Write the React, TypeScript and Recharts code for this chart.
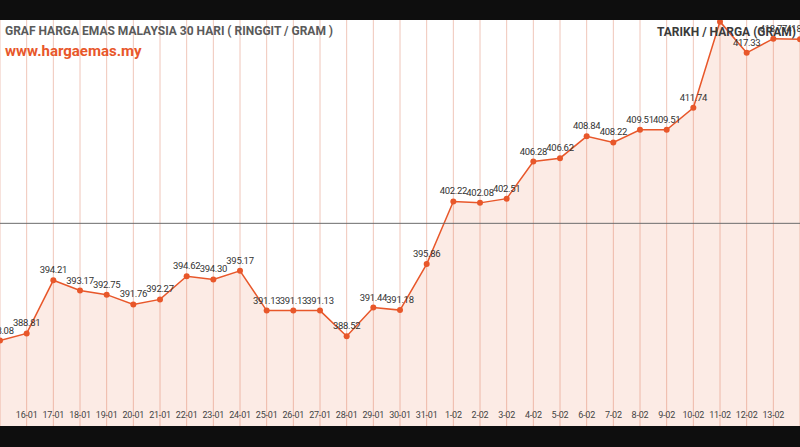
import React from "react";
import { AreaChart, Area, XAxis, YAxis, CartesianGrid, ReferenceLine, LabelList } from "recharts";

// tarikh (hari-bulan)
const dates = [
  "15-01", "16-01", "17-01", "18-01", "19-01", "20-01", "21-01", "22-01", "23-01", "24-01",
  "25-01", "26-01", "27-01", "28-01", "29-01", "30-01", "31-01", "1-02", "2-02", "3-02",
  "4-02", "5-02", "6-02", "7-02", "8-02", "9-02", "10-02", "11-02", "12-02", "13-02", "14-02",
];

// harga emas (RM / gram)
const prices = [
  388.08, 388.81, 394.21, 393.17, 392.75, 391.76, 392.27, 394.62, 394.3, 395.17,
  391.13, 391.13, 391.13, 388.52, 391.44, 391.18, 395.86, 402.22, 402.08, 402.51,
  406.28, 406.62, 408.84, 408.22, 409.51, 409.51, 411.74, 420.5, 417.33, 418.77, 418.7,
];

const yDomain = [379.4, 422.7];
const midLine = 400;

const data = dates.map((d, i) => ({ date: d, price: prices[i] }));

const ORANGE = "#e8572a";
const FONT = "Roboto, sans-serif";
const PLOT_BOTTOM = 426;

const DateTick = ({ x, payload, index }: any) => {
  if (index === 0 || index === dates.length - 1) return null;
  return (
    <text x={x} y={PLOT_BOTTOM - 8} textAnchor="middle" fontSize={9} letterSpacing={-0.2} fill="#444" fontFamily={FONT}>
      {payload.value}
    </text>
  );
};

const PriceDot = ({ cx, cy, index }: any) => {
  if (cx == null || cy == null) return null;
  return <circle key={`dot-${index}`} cx={cx} cy={cy} r={3} fill={ORANGE} />;
};

const App = () => {
  return (
    <div style={{ position: "fixed", left: 0, top: 0, width: 800, height: 447, background: "#fff", overflow: "hidden" }}>
      <AreaChart width={800} height={447} data={data} margin={{ top: 0, right: 0, left: 0, bottom: 0 }}>
        <CartesianGrid vertical={true} horizontal={false} stroke="#f0c6ba" />
        <XAxis
          dataKey="date"
          height={447 - PLOT_BOTTOM}
          interval={0}
          axisLine={false}
          tickLine={false}
          tick={<DateTick />}
        />
        <YAxis domain={yDomain} allowDataOverflow width={0} tick={false} tickLine={false} axisLine={{ stroke: "#999" }} />
        <ReferenceLine y={midLine} stroke="#6b6b6b" strokeWidth={1} />
        <Area
          type="linear"
          dataKey="price"
          stroke={ORANGE}
          strokeWidth={1.5}
          fill={ORANGE}
          fillOpacity={0.12}
          dot={<PriceDot />}
          activeDot={false}
          isAnimationActive={false}
        >
          <LabelList
            dataKey="price"
            position="top"
            offset={7}
            fontSize={9.5}
            letterSpacing={-0.3}
            fill="#333"
            fontFamily={FONT}
            formatter={(v: number) => v.toFixed(2)}
          />
        </Area>
      </AreaChart>
      <div style={{ position: "absolute", left: 0, top: 0, width: 800, height: 20, background: "#0e0e0e" }} />
      <div style={{ position: "absolute", left: 0, top: PLOT_BOTTOM, width: 800, height: 447 - PLOT_BOTTOM, background: "#0e0e0e" }} />
      <div style={{ position: "absolute", left: 5, top: 24, fontFamily: "Roboto, sans-serif", fontWeight: 700, fontSize: 12, color: "#5a5a5a", whiteSpace: "nowrap" }}>
        GRAF HARGA EMAS MALAYSIA 30 HARI ( RINGGIT / GRAM )
      </div>
      <div style={{ position: "absolute", left: 5, top: 42, fontFamily: "Roboto, sans-serif", fontWeight: 700, fontSize: 15, color: ORANGE, whiteSpace: "nowrap" }}>
        www.hargaemas.my
      </div>
      <div style={{ position: "absolute", left: 657, top: 25, fontFamily: "Roboto, sans-serif", fontWeight: 700, fontSize: 12, color: "#3a3a3a", whiteSpace: "nowrap" }}>
        TARIKH / HARGA (GRAM)
      </div>
    </div>
  );
};

export default App;
